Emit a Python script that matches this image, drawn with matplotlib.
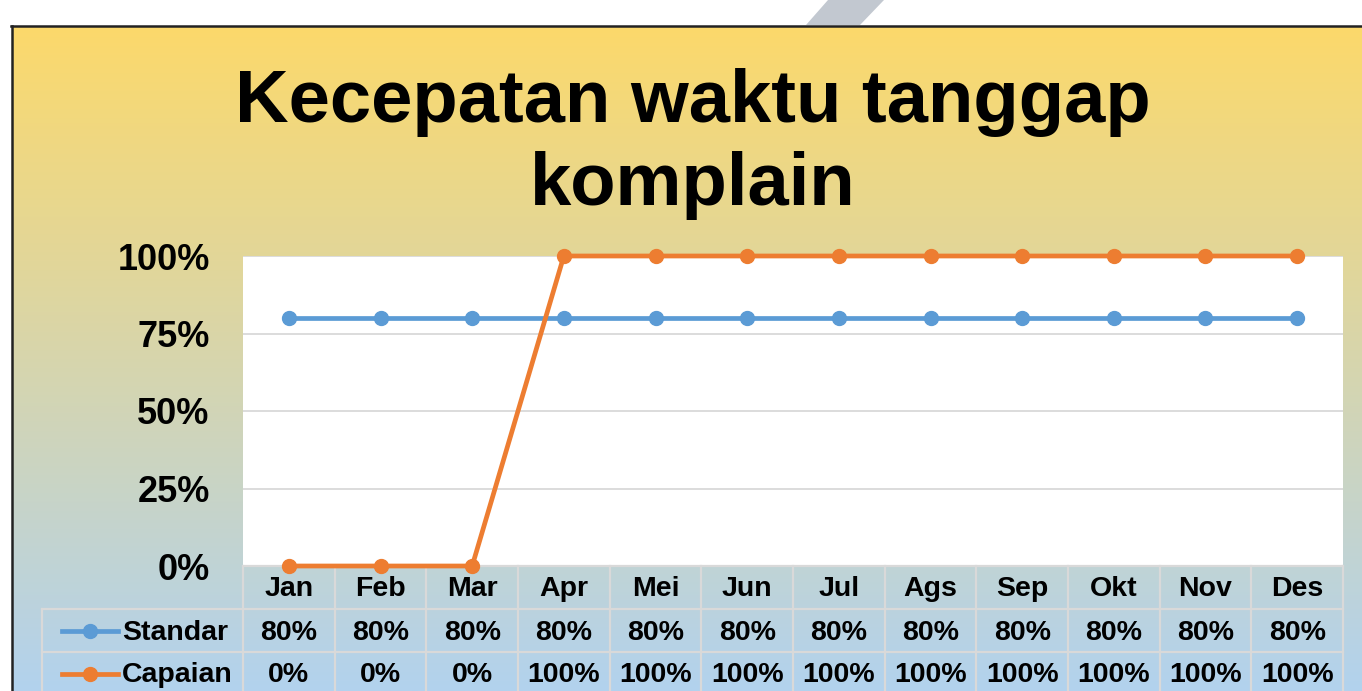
import matplotlib.pyplot as plt
import numpy as np
from matplotlib.patches import Polygon
from matplotlib.lines import Line2D
from matplotlib.transforms import blended_transform_factory

plt.rcParams['font.family'] = ['Liberation Sans', 'DejaVu Sans']
plt.rcParams['font.weight'] = 'bold'

TITLE_LINES = ["Kecepatan waktu tanggap", "komplain"]
MONTHS = ["Jan", "Feb", "Mar", "Apr", "Mei", "Jun", "Jul", "Ags", "Sep", "Okt", "Nov", "Des"]
STANDAR = [0.80] * 12
CAPAIAN = [0.0, 0.0, 0.0, 1.0, 1.0, 1.0, 1.0, 1.0, 1.0, 1.0, 1.0, 1.0]
SERIES_NAMES = ["Standar", "Capaian"]
SERIES_COLORS = ["#5B9BD5", "#ED7D31"]
Y_TICKS = [0.0, 0.25, 0.50, 0.75, 1.0]

W, H = 1362, 691
fig = plt.figure(figsize=(W / 100, H / 100), dpi=100)


def fx(px):
    return px / W


def fy(py):
    return 1 - py / H


# gradient background inside the chart frame
bg = fig.add_axes([fx(12), 0, 1 - fx(12), fy(27)])
top = np.array([252, 217, 107]) / 255
bottom = np.array([178, 210, 238]) / 255
t = np.linspace(0, 1, 256)[:, None]
grad = top * (1 - t) + bottom * t
bg.imshow(grad[:, None, :], aspect="auto", extent=[0, 1, 0, 1], origin="upper")
bg.set_axis_off()

# frame lines and the grey stripe above the frame
fig.add_artist(Line2D([fx(11), 1], [fy(26), fy(26)], color="#222222", lw=1.8, transform=fig.transFigure))
fig.add_artist(Line2D([fx(12), fx(12)], [0, fy(26)], color="#222222", lw=1.8, transform=fig.transFigure))
stripe = Polygon([(fx(806), fy(25)), (fx(860), fy(25)), (fx(884), 1), (fx(828), 1)],
                 closed=True, facecolor="#C2C8D0", edgecolor="none", transform=fig.transFigure)
fig.add_artist(stripe)

fig.text(fx(693), fy(122), TITLE_LINES[0], ha="center", va="baseline", fontsize=53.5, fontweight="bold")
fig.text(fx(693), fy(205), TITLE_LINES[1], ha="center", va="baseline", fontsize=53.5, fontweight="bold")

ax = fig.add_axes([fx(243), fy(566), fx(1343) - fx(243), fy(256) - fy(566)])
ax.set_facecolor("white")
x = np.arange(len(MONTHS))
for vals, color in zip([STANDAR, CAPAIAN], SERIES_COLORS):
    ax.plot(x, vals, color=color, lw=3.4, marker="o", markersize=10, zorder=3, clip_on=False)
ax.set_xlim(-0.5, len(MONTHS) - 0.5)
ax.set_ylim(0, 1)
ax.set_yticks(Y_TICKS)
ax.set_yticklabels([f"{int(round(v * 100))}%" for v in Y_TICKS], fontsize=26, fontweight="bold")
ax.tick_params(axis="y", length=0, pad=24)
ax.set_xticks([])
for v in Y_TICKS:
    ax.axhline(v, color="#D9D9D9", lw=1.3, zorder=1)
for s in ax.spines.values():
    s.set_visible(False)

# data table under the plot
tr = blended_transform_factory(ax.transData, ax.transAxes)
col_w = 1100 / len(MONTHS)
left = -0.5 - (243 - 42) / col_w
ph = 310.0
r0, r1, r2, r3 = 0, -43 / ph, -86 / ph, -129 / ph
nudge = 2 / ph
grid_kw = dict(color="#D9D9D9", lw=1.6, transform=tr, clip_on=False, zorder=2)
ax.plot([-0.5, len(MONTHS) - 0.5], [r0, r0], **grid_kw)
for r in [r1, r2, r3]:
    ax.plot([left, len(MONTHS) - 0.5], [r, r], **grid_kw)
for i in range(len(MONTHS) + 1):
    ax.plot([i - 0.5, i - 0.5], [r0, r3], **grid_kw)
ax.plot([left, left], [r1, r3], **grid_kw)

for i, m in enumerate(MONTHS):
    ax.text(i, (r0 + r1) / 2 - nudge, m, ha="center", va="center", fontsize=20.5, fontweight="bold",
            transform=tr, clip_on=False)
    ax.text(i, (r1 + r2) / 2 - nudge, f"{int(round(STANDAR[i] * 100))}%", ha="center", va="center",
            fontsize=20.5, fontweight="bold", transform=tr, clip_on=False)
    ax.text(i, (r2 + r3) / 2 - nudge, f"{int(round(CAPAIAN[i] * 100))}%", ha="center", va="center",
            fontsize=20.5, fontweight="bold", transform=tr, clip_on=False)

key_l = -0.5 - (243 - 62) / col_w
key_r = -0.5 - (243 - 118) / col_w
txt_x = -0.5 - (243 - 122) / col_w
for name, color, (ra, rb) in zip(SERIES_NAMES, SERIES_COLORS, [(r1, r2), (r2, r3)]):
    yc = (ra + rb) / 2
    ax.plot([key_l, key_r], [yc, yc], color=color, lw=3.4, transform=tr, clip_on=False)
    ax.plot([(key_l + key_r) / 2], [yc], color=color, marker="o", markersize=10,
            transform=tr, clip_on=False)
    ax.text(txt_x, yc - nudge, name, ha="left", va="center", fontsize=20.5, fontweight="bold",
            transform=tr, clip_on=False)

fig.savefig("out.png", dpi=100)
